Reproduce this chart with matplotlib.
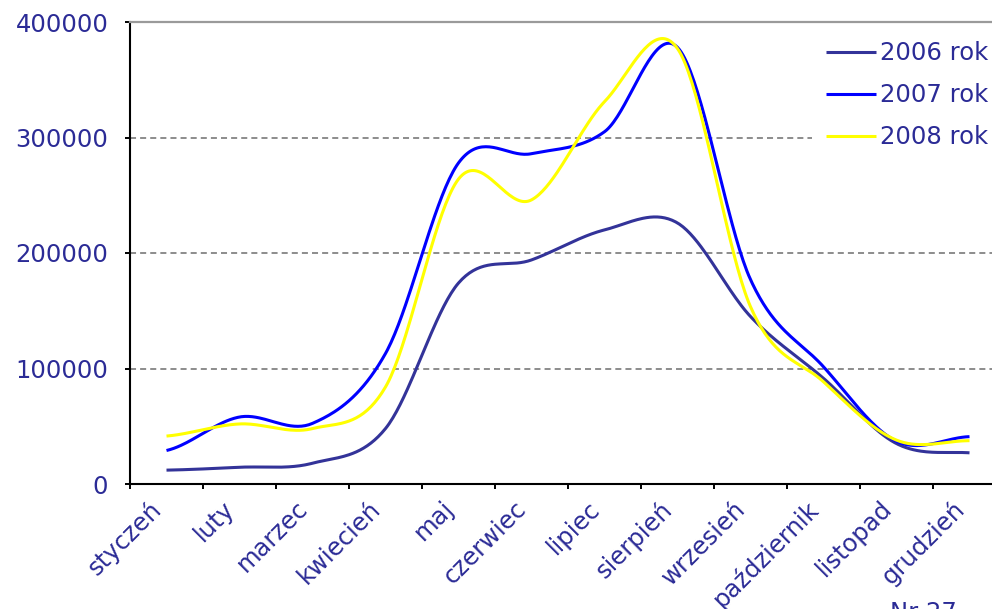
import numpy as np
import matplotlib
matplotlib.use("Agg")
import matplotlib.pyplot as plt
from matplotlib.ticker import FixedLocator

# Monthly values for each year
months = ['styczeń', 'luty', 'marzec', 'kwiecień', 'maj', 'czerwiec',
          'lipiec', 'sierpień', 'wrzesień', 'październik', 'listopad', 'grudzień']
y2006 = [12000, 14500, 18000, 48000, 174000, 194000, 220000, 226000, 145000, 91500, 35000, 27000]
y2007 = [29000, 58000, 52500, 113000, 278000, 286000, 305000, 378000, 177000, 101500, 37000, 41000]
y2008 = [41500, 52000, 48000, 84000, 264000, 246000, 331000, 377000, 153500, 88500, 38000, 37500]
series_labels = ['2006 rok', '2007 rok', '2008 rok']
series_colors = ['#333399', '#0000ff', '#ffff00']
y_ticks = [0, 100000, 200000, 300000, 400000]

TEXT = '#2b2b96'
FS = 17.5


def smooth(xv, yv, n=40):
    """Catmull-Rom spline through the points (spreadsheet-style smoothed line)."""
    xv = np.asarray(xv, float)
    yv = np.asarray(yv, float)
    yp = np.concatenate([[yv[0]], yv, [yv[-1]]])
    xs, ys = [], []
    for i in range(len(xv) - 1):
        p0, p1, p2, p3 = yp[i], yp[i + 1], yp[i + 2], yp[i + 3]
        m1 = (p2 - p0) / 2.0
        m2 = (p3 - p1) / 2.0
        t = np.linspace(0, 1, n, endpoint=(i == len(xv) - 2))
        h00 = 2 * t**3 - 3 * t**2 + 1
        h10 = t**3 - 2 * t**2 + t
        h01 = -2 * t**3 + 3 * t**2
        h11 = t**3 - t**2
        xs.append(xv[i] + t * (xv[i + 1] - xv[i]))
        ys.append(h00 * p1 + h10 * m1 + h01 * p2 + h11 * m2)
    return np.concatenate(xs), np.concatenate(ys)


plt.rcParams['font.family'] = ['DejaVu Sans']

fig = plt.figure(figsize=(9.92, 6.09), dpi=100)
ax = fig.add_axes([130 / 992, 125 / 609, 876 / 992, 462 / 609])

x = np.arange(len(months))
for vals, lab, col in zip([y2006, y2007, y2008], series_labels, series_colors):
    sx, sy = smooth(x, vals)
    ax.plot(sx, sy, color=col, lw=2.2, label=lab, solid_capstyle='butt', zorder=3)

ax.set_xlim(-0.5, len(months) - 0.5)
ax.set_ylim(0, 400000)

# y axis
ax.set_yticks(y_ticks)
ax.set_yticklabels([str(v) for v in y_ticks])
ax.tick_params(axis='y', direction='out', length=3.6, width=1.4, pad=12,
               labelsize=FS, labelcolor=TEXT, color='black')
for v in y_ticks[1:-1]:
    ax.axhline(v, color='#8c8c8c', lw=1.4, ls=(0, (3.1, 2.1)), zorder=1)

# x axis: labels at category centres, tick marks between categories
ax.set_xticks(x)
ax.set_xticklabels(months, rotation=45, ha='right')
ax.tick_params(axis='x', which='major', length=0, pad=9,
               labelsize=FS, labelcolor=TEXT)
ax.xaxis.set_minor_locator(FixedLocator(np.arange(-0.5, len(months), 1.0)))
ax.tick_params(axis='x', which='minor', direction='out', length=3.6, width=1.4,
               color='black')

for side in ('left', 'bottom'):
    ax.spines[side].set_color('black')
    ax.spines[side].set_linewidth(1.5)
ax.spines['top'].set_color('#9a9a9a')
ax.spines['top'].set_linewidth(1.6)
ax.spines['right'].set_visible(False)

leg = ax.legend(loc='upper left', bbox_to_anchor=(812 / 992, 1 - 27 / 609),
                bbox_transform=fig.transFigure, frameon=True, fancybox=False,
                facecolor='white', edgecolor='none', framealpha=1,
                fontsize=FS, handlelength=2.06, handletextpad=0.17,
                borderpad=0.58, labelspacing=0.74, borderaxespad=0)
for t in leg.get_texts():
    t.set_color(TEXT)
for h in leg.get_lines():
    h.set_linewidth(2.2)
leg.set_zorder(5)

fig.text(890 / 992, 1 - 601 / 609, 'Nr 27', color=TEXT, fontsize=FS,
         ha='left', va='top')

fig.savefig('out.png', dpi=100)
